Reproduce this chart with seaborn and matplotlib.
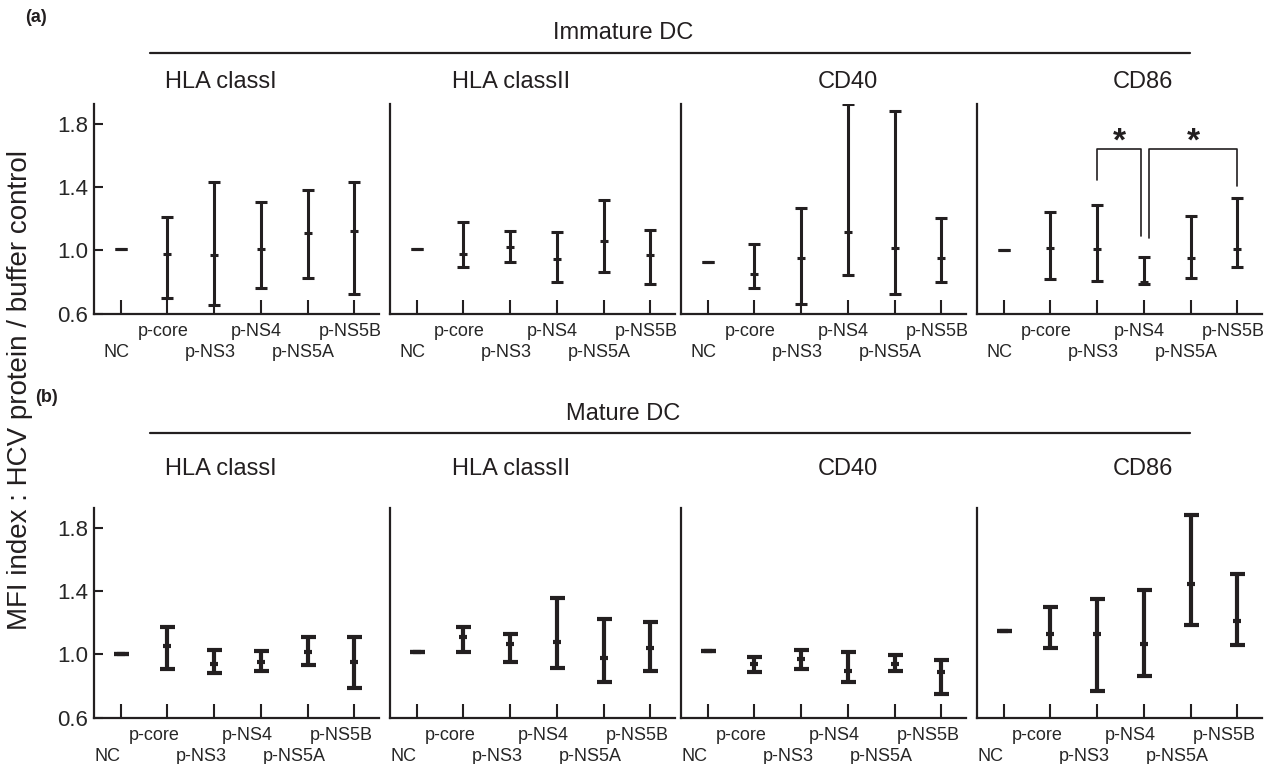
import pandas as pd
import matplotlib
matplotlib.use('Agg')
import matplotlib.pyplot as plt
import matplotlib.transforms as mtransforms
import seaborn as sns

groups = ['NC', 'p-core', 'p-NS3', 'p-NS4', 'p-NS5A', 'p-NS5B']
markers = ['HLA classI', 'HLA classII', 'CD40', 'CD86']
yticks = [0.6, 1.0, 1.4, 1.8]

# immature DC: one list per marker (HLA classI, HLA classII, CD40, CD86); NC has no spread
imm_mean = [[1.01, 0.975, 0.968, 1.006, 1.112, 1.12],
            [1.006, 0.975, 1.02, 0.943, 1.057, 0.968],
            [0.924, 0.85, 0.949, 1.114, 1.015, 0.949],
            [1.0, 1.015, 1.006, 0.80, 0.949, 1.006]]
imm_low = [[1.01, 0.70, 0.652, 0.76, 0.823, 0.724],
           [1.006, 0.895, 0.924, 0.797, 0.861, 0.785],
           [0.924, 0.76, 0.66, 0.842, 0.724, 0.80],
           [1.0, 0.816, 0.804, 0.785, 0.825, 0.895]]
imm_high = [[1.01, 1.213, 1.432, 1.306, 1.38, 1.435],
            [1.006, 1.18, 1.12, 1.114, 1.319, 1.127],
            [0.924, 1.038, 1.266, 1.928, 1.88, 1.205],
            [1.0, 1.243, 1.285, 0.96, 1.22, 1.33]]

# mature DC
mat_mean = [[1.0, 1.05, 0.94, 0.954, 1.013, 0.954],
            [1.013, 1.107, 1.065, 1.08, 0.98, 1.038],
            [1.023, 0.937, 0.97, 0.893, 0.941, 0.887],
            [1.145, 1.132, 1.132, 1.063, 1.447, 1.214]]
mat_low = [[1.0, 0.91, 0.884, 0.893, 0.93, 0.784],
           [1.013, 1.017, 0.954, 0.914, 0.828, 0.893],
           [1.023, 0.889, 0.91, 0.826, 0.897, 0.75],
           [1.145, 1.042, 0.765, 0.861, 1.187, 1.057]]
mat_high = [[1.0, 1.174, 1.027, 1.023, 1.113, 1.111],
            [1.013, 1.172, 1.13, 1.355, 1.227, 1.208],
            [1.023, 0.983, 1.025, 1.013, 0.996, 0.962],
            [1.145, 1.30, 1.353, 1.405, 1.88, 1.508]]

sns.set_theme(style='ticks')
plt.rcParams['font.family'] = ['Liberation Sans', 'DejaVu Sans']
ink = '#231f20'

W, H = 1273, 764
fig = plt.figure(figsize=(W / 100, H / 100), dpi=100)

lefts = [94, 390, 681, 977]
bottoms = [313.5, 717.5]
aw, ah = 285, 210
title_x = [221, 511, 848, 1143]
title_y = [82, 469]

rows = [(imm_mean, imm_low, imm_high, 2.2, 4.3, -4),
        (mat_mean, mat_low, mat_high, 3.0, 5.4, -13)]

for r, (means, lows, highs, lw, cap, dx) in enumerate(rows):
    for c, name in enumerate(markers):
        ax = fig.add_axes([lefts[c] / W, 1 - bottoms[r] / H, aw / W, ah / H])
        df = pd.DataFrame({'pos': range(len(groups)), 'group': groups,
                           'mean': means[c], 'low': lows[c], 'high': highs[c]})
        ax.errorbar(df['pos'], df['mean'],
                    yerr=[df['mean'] - df['low'], df['high'] - df['mean']],
                    fmt='none', ecolor=ink, elinewidth=lw, capsize=cap, capthick=lw)
        sns.scatterplot(data=df, x='pos', y='mean', marker='_', s=30,
                        linewidth=lw, color=ink, ax=ax, zorder=3)
        ax.set_xlabel('')
        ax.set_ylabel('')
        ax.set_xlim(-0.57, 5.53)
        ax.set_ylim(0.6, 1.93)

        ax.set_xticks(range(len(groups)))
        ax.set_xticklabels(groups, fontsize=13, va='top')
        if c == 0:
            ax.set_yticks(yticks)
            ax.set_yticklabels([f'{t:.1f}' for t in yticks], fontsize=16)
        else:
            ax.set_yticks([])
        ax.tick_params(axis='x', direction='in', length=10, width=1.5, color=ink, pad=7)
        ax.tick_params(axis='y', direction='in', length=6.5, width=1.5, color=ink, pad=4)
        sns.despine(ax=ax)
        for s in ['left', 'bottom']:
            ax.spines[s].set_linewidth(1.6)
            ax.spines[s].set_color(ink)

        # staggered labels: NC, p-NS3, p-NS5A sit one line lower
        for i, lab in enumerate(ax.get_xticklabels()):
            dy = -21 if i % 2 == 0 else 0
            shift = mtransforms.ScaledTranslation(dx / 100, dy / 100, fig.dpi_scale_trans)
            lab.set_transform(lab.get_transform() + shift)

        # significance brackets on immature CD86
        if r == 0 and name == 'CD86':
            ax.plot([2, 2, 2.95, 2.95], [1.443, 1.643, 1.643, 1.09], color=ink, lw=1.2)
            ax.plot([3.12, 3.12, 5, 5], [1.08, 1.643, 1.643, 1.407], color=ink, lw=1.2)
            ax.text(2.475, 1.585, '*', ha='center', va='bottom', fontsize=24,
                    fontweight='bold', color=ink)
            ax.text(4.06, 1.585, '*', ha='center', va='bottom', fontsize=24,
                    fontweight='bold', color=ink)

        fig.text(title_x[c] / W, 1 - title_y[r] / H, name, ha='center', va='center',
                 fontsize=17, color=ink)

# row headers
for label, tag, ty, ly, px, py in [('Immature DC', '(a)', 33, 53, 36, 17),
                                    ('Mature DC', '(b)', 414, 433, 46, 397)]:
    fig.text(623 / W, 1 - ty / H, label, ha='center', va='center', fontsize=17, color=ink)
    fig.add_artist(plt.Line2D([150 / W, 1190 / W], [1 - ly / H, 1 - ly / H],
                              color=ink, lw=1.6))
    fig.text(px / W, 1 - py / H, tag, ha='center', va='center', fontsize=13,
             fontweight='bold', color=ink)

fig.text(20 / W, 1 - 390 / H, 'MFI index : HCV protein / buffer control', rotation=90,
         ha='center', va='center', fontsize=20, color=ink)

fig.savefig('out.png', dpi=100, facecolor='white')
